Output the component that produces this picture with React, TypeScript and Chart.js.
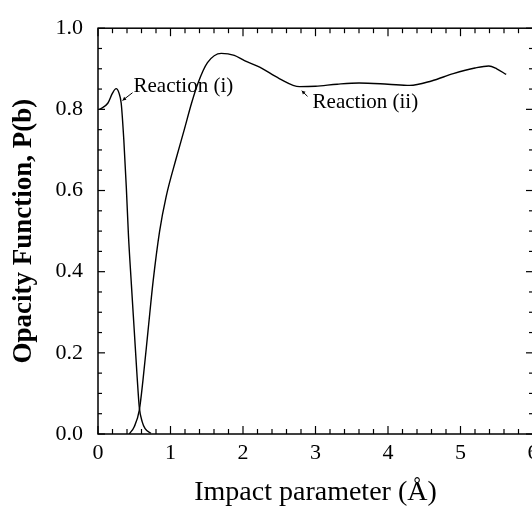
import React, { useEffect, useRef } from "react";
import { Chart, registerables } from "chart.js";

Chart.register(...registerables);

// Reaction (i)
const bI = [0.02, 0.135, 0.2, 0.25, 0.29, 0.32, 0.356, 0.39, 0.42, 0.46, 0.5, 0.54, 0.57, 0.61, 0.65, 0.73];
const pI = [0.8, 0.815, 0.84, 0.851, 0.84, 0.815, 0.725, 0.61, 0.49, 0.37, 0.255, 0.14, 0.065, 0.03, 0.013, 0.002];

// Reaction (ii)
const bII = [0.43, 0.5, 0.57, 0.62, 0.69, 0.76, 0.85, 0.94, 1.08, 1.19, 1.29, 1.38, 1.51, 1.7, 1.88, 2.02, 2.23, 2.5, 2.78, 3.0, 3.3, 3.6, 4.0, 4.3, 4.6, 4.9, 5.2, 5.39, 5.5, 5.63];
const pII = [0.0, 0.018, 0.059, 0.132, 0.254, 0.376, 0.5, 0.585, 0.68, 0.75, 0.815, 0.865, 0.915, 0.938, 0.933, 0.92, 0.904, 0.876, 0.856, 0.857, 0.862, 0.865, 0.862, 0.859, 0.87, 0.888, 0.902, 0.907, 0.9, 0.886];

const xTicks = [0, 1, 2, 3, 4, 5, 6];
const yTicks = [0.0, 0.2, 0.4, 0.6, 0.8, 1.0];
const xMinorStep = 0.2;
const yMinorStep = 0.05;

const labelI = "Reaction (i)";
const labelII = "Reaction (ii)";
// annotation anchors in data units
const annI = { text: [0.49, 0.856], tail: [0.476, 0.841], head: [0.338, 0.822] };
const annII = { text: [2.96, 0.817], tail: [2.89, 0.832], head: [2.81, 0.846] };

const W = 560;
const H = 509;
const FONT = "'Liberation Serif', 'Times New Roman', serif";

const framePlugin = {
  id: "frame",
  afterDraw(chart: any) {
    const { ctx, chartArea: a, scales } = chart;
    const xs = scales.x;
    const ys = scales.y;
    ctx.save();
    ctx.strokeStyle = "#000";
    ctx.lineWidth = 1.5;
    ctx.strokeRect(a.left, a.top, a.right - a.left, a.bottom - a.top);
    ctx.lineWidth = 1.2;
    const tick = (x1: number, y1: number, x2: number, y2: number) => {
      ctx.beginPath();
      ctx.moveTo(x1, y1);
      ctx.lineTo(x2, y2);
      ctx.stroke();
    };
    const nx = Math.round((xTicks[xTicks.length - 1] - xTicks[0]) / xMinorStep);
    for (let i = 0; i <= nx; i++) {
      const v = xTicks[0] + i * xMinorStep;
      const major = xTicks.some((t) => Math.abs(t - v) < 1e-6);
      const len = major ? 8 : 5;
      const px = xs.getPixelForValue(v);
      tick(px, a.bottom, px, a.bottom - len);
      tick(px, a.top, px, a.top + len);
    }
    const ny = Math.round((yTicks[yTicks.length - 1] - yTicks[0]) / yMinorStep);
    for (let i = 0; i <= ny; i++) {
      const v = yTicks[0] + i * yMinorStep;
      const major = yTicks.some((t) => Math.abs(t - v) < 1e-6);
      const len = major ? 7 : 4;
      const py = ys.getPixelForValue(v);
      tick(a.left, py, a.left + len, py);
      tick(a.right, py, a.right - len, py);
    }
    // annotations
    const drawAnn = (ann: any, text: string) => {
      const tx = xs.getPixelForValue(ann.text[0]);
      const ty = ys.getPixelForValue(ann.text[1]);
      ctx.fillStyle = "#000";
      ctx.font = `21px ${FONT}`;
      ctx.textAlign = "left";
      ctx.textBaseline = "middle";
      ctx.fillText(text, tx, ty);
      const x1 = xs.getPixelForValue(ann.tail[0]);
      const y1 = ys.getPixelForValue(ann.tail[1]);
      const x2 = xs.getPixelForValue(ann.head[0]);
      const y2 = ys.getPixelForValue(ann.head[1]);
      ctx.lineWidth = 1;
      tick(x1, y1, x2, y2);
      const ang = Math.atan2(y2 - y1, x2 - x1);
      const hl = 4;
      ctx.beginPath();
      ctx.moveTo(x2, y2);
      ctx.lineTo(x2 - hl * Math.cos(ang - 0.5), y2 - hl * Math.sin(ang - 0.5));
      ctx.lineTo(x2 - hl * Math.cos(ang + 0.5), y2 - hl * Math.sin(ang + 0.5));
      ctx.closePath();
      ctx.fill();
    };
    drawAnn(annI, labelI);
    drawAnn(annII, labelII);
    ctx.restore();
  },
};

export default function App() {
  const ref = useRef<HTMLCanvasElement | null>(null);
  useEffect(() => {
    if (!ref.current) return;
    const chart = new Chart(ref.current, {
      type: "scatter",
      data: {
        datasets: [
          {
            label: labelI,
            data: bI.map((b, i) => ({ x: b, y: pI[i] })),
            showLine: true,
            borderColor: "#000",
            borderWidth: 1.4,
            pointRadius: 0,
            cubicInterpolationMode: "monotone",
          },
          {
            label: labelII,
            data: bII.map((b, i) => ({ x: b, y: pII[i] })),
            showLine: true,
            borderColor: "#000",
            borderWidth: 1.4,
            pointRadius: 0,
            cubicInterpolationMode: "monotone",
          },
        ],
      },
      options: {
        responsive: false,
        animation: false,
        events: [],
        layout: { padding: { top: 24, left: 0, right: 0, bottom: 0 } },
        plugins: { legend: { display: false }, tooltip: { enabled: false } },
        scales: {
          x: {
            type: "linear",
            min: 0,
            max: 6,
            afterFit: (s: any) => { s.height = 75; },
            afterBuildTicks: (s: any) => { s.ticks = xTicks.map((v) => ({ value: v })); },
            grid: { display: false, drawTicks: false },
            border: { display: false },
            ticks: { color: "#000", font: { family: FONT, size: 22 }, padding: 6, callback: (v: any) => String(v) },
            title: { display: true, text: "Impact parameter (Å)", color: "#000", font: { family: FONT, size: 28 }, padding: { top: 0, bottom: 0 } },
          },
          y: {
            type: "linear",
            min: 0,
            max: 1,
            afterFit: (s: any) => { s.width = 98; },
            afterBuildTicks: (s: any) => { s.ticks = yTicks.map((v) => ({ value: v })); },
            grid: { display: false, drawTicks: false },
            border: { display: false },
            ticks: { color: "#000", font: { family: FONT, size: 22 }, padding: 15, callback: (v: any) => Number(v).toFixed(1) },
            title: { display: true, text: "Opacity Function, P(b)", color: "#000", font: { family: FONT, size: 27, weight: "bold" }, padding: { top: 8, bottom: 0 } },
          },
          y2: {
            type: "linear",
            position: "right",
            min: 0,
            max: 1,
            afterFit: (s: any) => { s.width = W - 533; },
            grid: { display: false, drawTicks: false },
            border: { display: false },
            ticks: { display: false },
          },
        },
      } as any,
      plugins: [framePlugin],
    });
    return () => chart.destroy();
  }, []);
  return (
    <div style={{ position: "fixed", left: 0, top: 0, width: 532, height: 509, overflow: "hidden", background: "#fff" }}>
      <canvas ref={ref} width={W} height={H} style={{ width: W, height: H, display: "block" }} />
    </div>
  );
}
